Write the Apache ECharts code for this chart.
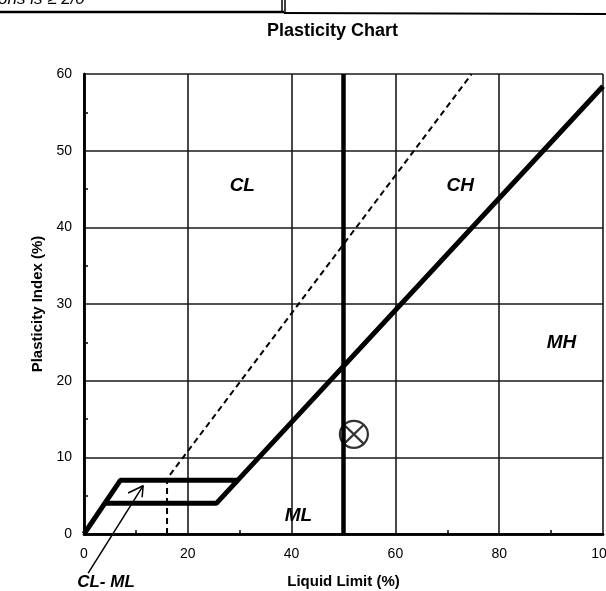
<!DOCTYPE html>
<html>
<head>
<meta charset="utf-8">
<script src="https://cdn.jsdelivr.net/npm/echarts@6/dist/echarts.min.js"></script>
<style>html,body{margin:0;padding:0;background:#fff;}#c{width:606px;height:591px;}</style>
</head>
<body>
<div id="c"></div>
<script>
// ---- data ----
var xTicks = [0, 20, 40, 60, 80, 100];
var yTicks = [0, 10, 20, 30, 40, 50, 60];
var aLineUpper = [[0, 0], [7, 7], [29.6, 7], [100, 58.4]];
var aLineLower = [[4, 4], [25.5, 4], [29.6, 7]];
var llFifty = [[50, 0], [50, 60]];
var uLine = [[16, 0], [16, 7.2], [74.7, 60]];
var samplePoint = [[52, 13]];
var zoneLabels = [
  {name: 'CL', value: [30.5, 45.5]},
  {name: 'CH', value: [72.5, 45.5]},
  {name: 'MH', value: [92, 25]},
  {name: 'ML', value: [41.3, 2.5]}
];
var arrowShaft = [[0.8, -5.1], [11.4, 6.3]];
var arrowHead = [[8.5, 5.35], [11.4, 6.3], [11.2, 4.8]];

var chart = echarts.init(document.getElementById('c'), null, {renderer: 'canvas'});
var lineS = function (data, w, dash, clip) {
  return {
    type: 'line', data: data, symbol: 'none', silent: true, clip: clip !== false,
    lineStyle: {color: '#000', width: w, type: dash || 'solid'},
    animation: false, z: 5
  };
};
var axisFont = {fontFamily: 'Liberation Sans, Arial', fontSize: 14, color: '#000'};
chart.setOption({
  animation: false,
  backgroundColor: '#fff',
  grid: {left: 84, right: 3, top: 74, bottom: 57, containLabel: false, outerBoundsMode: 'none'},
  xAxis: [{
    type: 'value', min: 0, max: 100, interval: 20,
    axisLine: {show: true, onZero: false, lineStyle: {color: '#000', width: 2.5}},
    axisTick: {show: false, inside: true},
    minorTick: {show: true, splitNumber: 2, length: 4, lineStyle: {color: '#000', width: 1.5}},
    splitLine: {show: true, lineStyle: {color: '#1a1a1a', width: 1.6}},
    axisLabel: Object.assign({margin: 13}, axisFont),
    name: 'Liquid Limit (%)', nameLocation: 'middle', nameGap: 40,
    nameTextStyle: {fontFamily: 'Liberation Sans, Arial', fontSize: 15, fontWeight: 'bold', color: '#000'}
  }, {
    type: 'value', position: 'top', min: 0, max: 100,
    axisLine: {show: true, lineStyle: {color: '#000', width: 2.5}},
    axisTick: {show: false}, axisLabel: {show: false}, splitLine: {show: false}
  }],
  yAxis: [{
    type: 'value', min: 0, max: 60, interval: 10,
    axisLine: {show: true, onZero: false, lineStyle: {color: '#000', width: 2.5}},
    axisTick: {show: false, inside: true},
    minorTick: {show: true, splitNumber: 2, length: 4, lineStyle: {color: '#000', width: 1.5}},
    splitLine: {show: true, lineStyle: {color: '#1a1a1a', width: 1.6}},
    axisLabel: Object.assign({margin: 12}, axisFont),
    name: 'Plasticity Index (%)', nameLocation: 'middle', nameGap: 36, nameRotate: 90,
    nameTextStyle: {fontFamily: 'Liberation Sans, Arial', fontSize: 15, fontWeight: 'bold', color: '#000'}
  }, {
    type: 'value', position: 'right', min: 0, max: 60,
    axisLine: {show: true, lineStyle: {color: '#000', width: 2.5}},
    axisTick: {show: false}, axisLabel: {show: false}, splitLine: {show: false}
  }],
  series: [
    lineS(aLineUpper, 5),
    lineS(aLineLower, 5),
    lineS(llFifty, 4.5),
    lineS(uLine, 2, [6, 4]),
    lineS(arrowShaft, 1.5, 'solid', false),
    lineS(arrowHead, 1.5, 'solid', false),
    {
      type: 'scatter', data: samplePoint, silent: true, z: 6,
      symbol: 'path://M0,15 A15,15 0 1,1 30,15 A15,15 0 1,1 0,15 Z M4.4,4.4 L25.6,25.6 M25.6,4.4 L4.4,25.6',
      symbolSize: [28, 27],
      itemStyle: {color: 'rgba(255,255,255,0)', borderColor: '#000', borderWidth: 2.2}
    },
    {
      type: 'scatter', data: zoneLabels, symbolSize: 0, silent: true, z: 7,
      itemStyle: {color: '#000', opacity: 1},
      label: {
        show: true, position: 'top', distance: 0, offset: [0, 10], formatter: '{b}',
        fontFamily: 'Liberation Sans, Arial', fontSize: 19, fontWeight: 'bold', fontStyle: 'italic', color: '#000',
        opacity: 1
      }
    }
  ],
  graphic: [
    {type: 'text', left: 267, top: 22, style: {text: 'Plasticity Chart', font: 'bold 18px "Liberation Sans", Arial', fill: '#000'}},
    {type: 'text', x: 106, y: 582, style: {text: 'CL- ML', font: 'italic bold 17px "Liberation Sans", Arial', fill: '#000', align: 'center', verticalAlign: 'middle'}},
    {type: 'line', shape: {x1: 0, y1: 12, x2: 284, y2: 12}, style: {stroke: '#000', lineWidth: 2.5}},
    {type: 'line', shape: {x1: 284, y1: 13, x2: 606, y2: 14}, style: {stroke: '#000', lineWidth: 2}},
    {type: 'line', shape: {x1: 282, y1: 0, x2: 282, y2: 12}, style: {stroke: '#000', lineWidth: 1.5}},
    {type: 'line', shape: {x1: 285, y1: 0, x2: 285, y2: 12}, style: {stroke: '#000', lineWidth: 1.5}},
    {type: 'text', x: -2, y: 8, style: {text: 'ons is \u2265 2/0', font: 'italic 17px "Liberation Sans", Arial', fill: '#000', verticalAlign: 'bottom'}}
  ]
});
</script>
</body>
</html>
